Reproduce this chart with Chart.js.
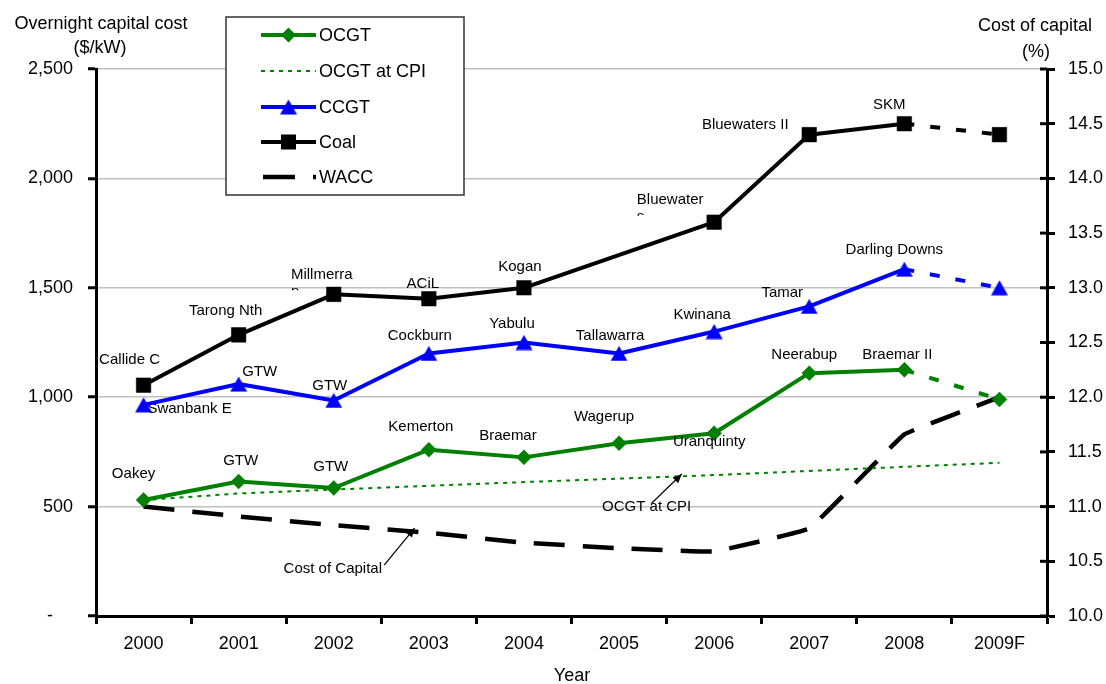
<!DOCTYPE html>
<html>
<head>
<meta charset="utf-8">
<script src="https://cdn.jsdelivr.net/npm/chart.js@4.4.1/dist/chart.umd.min.js"></script>
<style>
  html, body { margin: 0; padding: 0; background: #fff; }
  #wrap { width: 1106px; height: 684px; position: relative; }
</style>
</head>
<body>
<div id="wrap"><canvas id="chart" width="1106" height="684"></canvas></div>
<script>
// ---- data ----
const years = ['2000', '2001', '2002', '2003', '2004', '2005', '2006', '2007', '2008', '2009F'];
const ocgt = [530, 615, 585, 760, 725, 790, 835, 1110, 1125, 990];
const ocgtAtCpi = [530, 560, 578, 595, 612, 628, 644, 663, 682, 700];
const ccgt = [965, 1060, 985, 1200, 1250, 1200, 1300, 1415, 1585, 1500];
const coal = [1055, 1285, 1470, 1450, 1500, null, 1800, 2200, 2250, 2200];
const wacc = [11.0, 10.91, 10.83, 10.76, 10.67, 10.62, 10.59, 10.80, 11.66, 12.0];

const costTicks = [0, 500, 1000, 1500, 2000, 2500];
const waccTicks = [10.0, 10.5, 11.0, 11.5, 12.0, 12.5, 13.0, 13.5, 14.0, 14.5, 15.0];

const ocgtPlants = ['Oakey', 'GTW', 'GTW', 'Kemerton', 'Braemar', 'Wagerup', 'Uranquinty', 'Neerabup', 'Braemar II', null];
const ccgtPlants = ['Swanbank E', 'GTW', 'GTW', 'Cockburn', 'Yabulu', 'Tallawarra', 'Kwinana', 'Tamar', 'Darling Downs', null];
const coalPlants = ['Callide C', 'Tarong Nth', 'Millmerran', 'ACiL', 'Kogan', null, 'Bluewaters', 'Bluewaters II', 'SKM', null];

// ---- label placement (pixel offsets from each marker) ----
const ocgtLabelPos = [[-10, -26], [2, -21], [-3, -21], [-8, -23], [-16, -22], [-15, -26], [-5, 9], [-5, -18], [-7, -15], null];
const ccgtLabelPos = [[46, 4], [21, -12], [-4, -15], [-9, -18], [-12, -19], [-9, -17.5], [-12, -17], [-27, -14], [-10, -19.5], null];
const coalLabelPos = [[-14, -25], [-13, -23.5], [-12, -20], [-6, -15], [-4, -20.5], null, [-44, -22.5], [-64, -9.5], [-15, -19], null];
// text boxes that are too narrow: first-line length, visible px of the wrapped line
const coalLabelWrap = [null, null, [9, 3], null, null, null, [9, 3], null, null, null];

const FONT = '"Liberation Sans", Arial, Helvetica, sans-serif';
const GREEN = '#008000';
const BLUE = '#0000ff';
const BLACK = '#000000';
const FORECAST = 9;

Chart.defaults.font.family = FONT;
Chart.defaults.color = '#000';

// triangle marker whose box centre sits on the data point
function triangleMarker(color) {
  const c = document.createElement('canvas');
  c.width = 18; c.height = 16;
  const g = c.getContext('2d');
  g.fillStyle = color;
  g.beginPath();
  g.moveTo(9, 0.5);
  g.lineTo(17.5, 15.5);
  g.lineTo(0.5, 15.5);
  g.closePath();
  g.fill();
  return c;
}
const blueTriangle = triangleMarker(BLUE);

const forecastDash = ctx => (ctx.p1DataIndex === FORECAST ? [10, 16] : undefined);

function drawArrow(ctx, x1, y1, x2, y2) {
  ctx.beginPath();
  ctx.moveTo(x1, y1);
  ctx.lineTo(x2, y2);
  ctx.stroke();
  const a = Math.atan2(y2 - y1, x2 - x1);
  const L = 9, W = 4;
  ctx.beginPath();
  ctx.moveTo(x2, y2);
  ctx.lineTo(x2 - L * Math.cos(a) + W * Math.sin(a), y2 - L * Math.sin(a) - W * Math.cos(a));
  ctx.lineTo(x2 - L * Math.cos(a) - W * Math.sin(a), y2 - L * Math.sin(a) + W * Math.cos(a));
  ctx.closePath();
  ctx.fill();
}

// plant names beside each marker, plus the two arrowed call-outs
const plantLabels = {
  id: 'plantLabels',
  afterDatasetsDraw(chart) {
    const ctx = chart.ctx;
    const xs = chart.scales.x, ys = chart.scales.y;
    ctx.save();
    ctx.fillStyle = '#000';
    ctx.strokeStyle = '#000';
    ctx.font = '15px ' + FONT;
    ctx.textBaseline = 'middle';
    const groups = [
      [ocgtPlants, ocgt, ocgtLabelPos, null],
      [ccgtPlants, ccgt, ccgtLabelPos, null],
      [coalPlants, coal, coalLabelPos, coalLabelWrap]
    ];
    groups.forEach(([names, values, pos, wrap]) => {
      names.forEach((name, i) => {
        if (!name || !pos[i]) return;
        const px = xs.getPixelForValue(i) + pos[i][0];
        const py = ys.getPixelForValue(values[i]) + pos[i][1];
        if (wrap && wrap[i]) {
          const first = name.slice(0, wrap[i][0]);
          const rest = name.slice(wrap[i][0]);
          const w = ctx.measureText(first).width;
          ctx.textAlign = 'center';
          ctx.fillText(first, px, py);
          const left = px - w / 2;
          const lineY = py + 17;
          const top = lineY - 4;
          ctx.save();
          ctx.beginPath();
          ctx.rect(left - 2, top - 2, w + 4, wrap[i][1] + 2);
          ctx.clip();
          ctx.textAlign = 'left';
          ctx.fillText(rest, left, lineY);
          ctx.restore();
        } else {
          ctx.textAlign = 'center';
          ctx.fillText(name, px, py);
        }
      });
    });

    // call-outs: text position and arrow in (category index, $/kW) space
    const callouts = [
      { text: 'OCGT at CPI', at: [5.29, 498], from: [5.34, 514], to: [5.66, 649] },
      { text: 'Cost of Capital', at: [1.99, 214], from: [2.53, 232], to: [2.85, 402] }
    ];
    ctx.lineWidth = 1.2;
    callouts.forEach(c => {
      ctx.textAlign = 'center';
      ctx.fillText(c.text, xs.getPixelForValue(c.at[0]), ys.getPixelForValue(c.at[1]));
      drawArrow(ctx,
        xs.getPixelForValue(c.from[0]), ys.getPixelForValue(c.from[1]),
        xs.getPixelForValue(c.to[0]), ys.getPixelForValue(c.to[1]));
    });
    ctx.restore();
  }
};

// axis titles, inner half of the right-hand ticks, and the boxed legend
const frame = {
  id: 'frame',
  afterDraw(chart) {
    const ctx = chart.ctx;
    const y1 = chart.scales.y1;
    const area = chart.chartArea;
    ctx.save();

    ctx.strokeStyle = '#000';
    ctx.lineWidth = 3;
    waccTicks.forEach(v => {
      const py = y1.getPixelForValue(v);
      ctx.beginPath();
      ctx.moveTo(area.right - 7, py);
      ctx.lineTo(area.right, py);
      ctx.stroke();
    });

    ctx.fillStyle = '#000';
    ctx.font = '18px ' + FONT;
    ctx.textAlign = 'center';
    ctx.textBaseline = 'middle';
    ctx.fillText('Overnight capital cost', 101, 24);
    ctx.fillText('($/kW)', 100, 48);
    ctx.fillText('Cost of capital', 1035, 26);
    ctx.fillText('(%)', 1036, 52);
    ctx.fillText('Year', 572, 676);

    // legend
    const box = { x: 226, y: 17, w: 238, h: 178 };
    ctx.fillStyle = '#fff';
    ctx.fillRect(box.x, box.y, box.w, box.h);
    ctx.strokeStyle = '#333';
    ctx.lineWidth = 1.5;
    ctx.strokeRect(box.x, box.y, box.w, box.h);

    const items = [
      { text: 'OCGT', color: GREEN, width: 4, dash: [], marker: 'diamond', y: 35 },
      { text: 'OCGT at CPI', color: GREEN, width: 2, dash: [4, 5], marker: null, y: 71 },
      { text: 'CCGT', color: BLUE, width: 4, dash: [], marker: 'triangle', y: 107 },
      { text: 'Coal', color: BLACK, width: 4, dash: [], marker: 'square', y: 142 },
      { text: 'WACC', color: BLACK, width: 4.5, dash: [32, 18], marker: null, y: 177 }
    ];
    items.forEach(it => {
      ctx.strokeStyle = it.color;
      ctx.fillStyle = it.color;
      ctx.lineWidth = it.width;
      ctx.setLineDash(it.dash);
      ctx.beginPath();
      ctx.moveTo(it.marker === null && it.dash.length && it.dash[0] > 10 ? 263 : 261, it.y);
      ctx.lineTo(316, it.y);
      ctx.stroke();
      ctx.setLineDash([]);
      const mx = 288.5, my = it.y;
      if (it.marker === 'diamond') {
        ctx.beginPath();
        ctx.moveTo(mx, my - 7.5); ctx.lineTo(mx + 7.5, my); ctx.lineTo(mx, my + 7.5); ctx.lineTo(mx - 7.5, my);
        ctx.closePath(); ctx.fill();
      } else if (it.marker === 'triangle') {
        ctx.drawImage(blueTriangle, mx - 9, my - 8);
      } else if (it.marker === 'square') {
        ctx.fillRect(mx - 7.5, my - 7.5, 15, 15);
      }
      ctx.fillStyle = '#000';
      ctx.font = '18px ' + FONT;
      ctx.textAlign = 'left';
      ctx.textBaseline = 'middle';
      ctx.fillText(it.text, 319, it.y + 1);
    });
    ctx.restore();
  }
};

new Chart(document.getElementById('chart'), {
  type: 'line',
  data: {
    labels: years,
    datasets: [
      {
        label: 'WACC', data: wacc, yAxisID: 'y1',
        borderColor: BLACK, borderWidth: 4.5, borderDash: [31, 18],
        pointRadius: 0, tension: 0.06, fill: false, order: 5
      },
      {
        label: 'OCGT at CPI', data: ocgtAtCpi, yAxisID: 'y',
        borderColor: GREEN, borderWidth: 2, borderDash: [4, 5],
        pointRadius: 0, tension: 0, fill: false, order: 4
      },
      {
        label: 'OCGT', data: ocgt, yAxisID: 'y',
        borderColor: GREEN, backgroundColor: GREEN, borderWidth: 4, borderJoinStyle: 'round',
        pointStyle: 'rectRot', pointRadius: 7.5, pointBorderWidth: 0.5,
        pointBackgroundColor: GREEN, pointBorderColor: GREEN,
        segment: { borderDash: forecastDash }, order: 3
      },
      {
        label: 'CCGT', data: ccgt, yAxisID: 'y',
        borderColor: BLUE, backgroundColor: BLUE, borderWidth: 4, borderJoinStyle: 'round',
        pointStyle: blueTriangle, pointRadius: 9,
        segment: { borderDash: forecastDash }, order: 2
      },
      {
        label: 'Coal', data: coal, yAxisID: 'y', spanGaps: true,
        borderColor: BLACK, backgroundColor: BLACK, borderWidth: 4, borderJoinStyle: 'round',
        pointStyle: 'rect', pointRadius: 10.3, pointBorderWidth: 0.5,
        pointBackgroundColor: BLACK, pointBorderColor: BLACK,
        segment: { borderDash: forecastDash }, order: 1
      }
    ]
  },
  options: {
    responsive: false,
    animation: false,
    devicePixelRatio: 1,
    layout: { padding: { top: 69, left: 0, right: 0, bottom: 0 } },
    plugins: { legend: { display: false }, tooltip: { enabled: false }, title: { display: false } },
    scales: {
      x: {
        type: 'category',
        offset: true,
        grid: { offset: true, drawOnChartArea: false, tickLength: 8, tickColor: '#000', tickWidth: 3 },
        border: { color: '#000', width: 3 },
        ticks: { color: '#000', font: { size: 18 }, padding: 9, maxRotation: 0, autoSkip: false },
        afterFit: s => { s.height = 68; }
      },
      y: {
        position: 'left',
        min: costTicks[0], max: costTicks[costTicks.length - 1],
        afterBuildTicks: s => { s.ticks = costTicks.map(v => ({ value: v })); },
        ticks: {
          color: '#000', font: { size: 18 }, padding: 15,
          callback: v => (v === 0 ? '-    ' : v.toLocaleString('en-US'))
        },
        grid: { color: '#c0c0c0', lineWidth: 1.5, tickLength: 8, tickColor: '#000', tickWidth: 3 },
        border: { color: '#000', width: 3 },
        afterFit: s => { s.width = 96; }
      },
      y1: {
        position: 'right',
        min: waccTicks[0], max: waccTicks[waccTicks.length - 1],
        afterBuildTicks: s => { s.ticks = waccTicks.map(v => ({ value: v })); },
        ticks: { color: '#000', font: { size: 18 }, padding: 13, callback: v => Number(v).toFixed(1) },
        grid: { drawOnChartArea: false, tickLength: 8, tickColor: '#000', tickWidth: 3 },
        border: { color: '#000', width: 3 },
        afterFit: s => { s.width = 59; }
      }
    }
  },
  plugins: [plantLabels, frame]
});
</script>
</body>
</html>
